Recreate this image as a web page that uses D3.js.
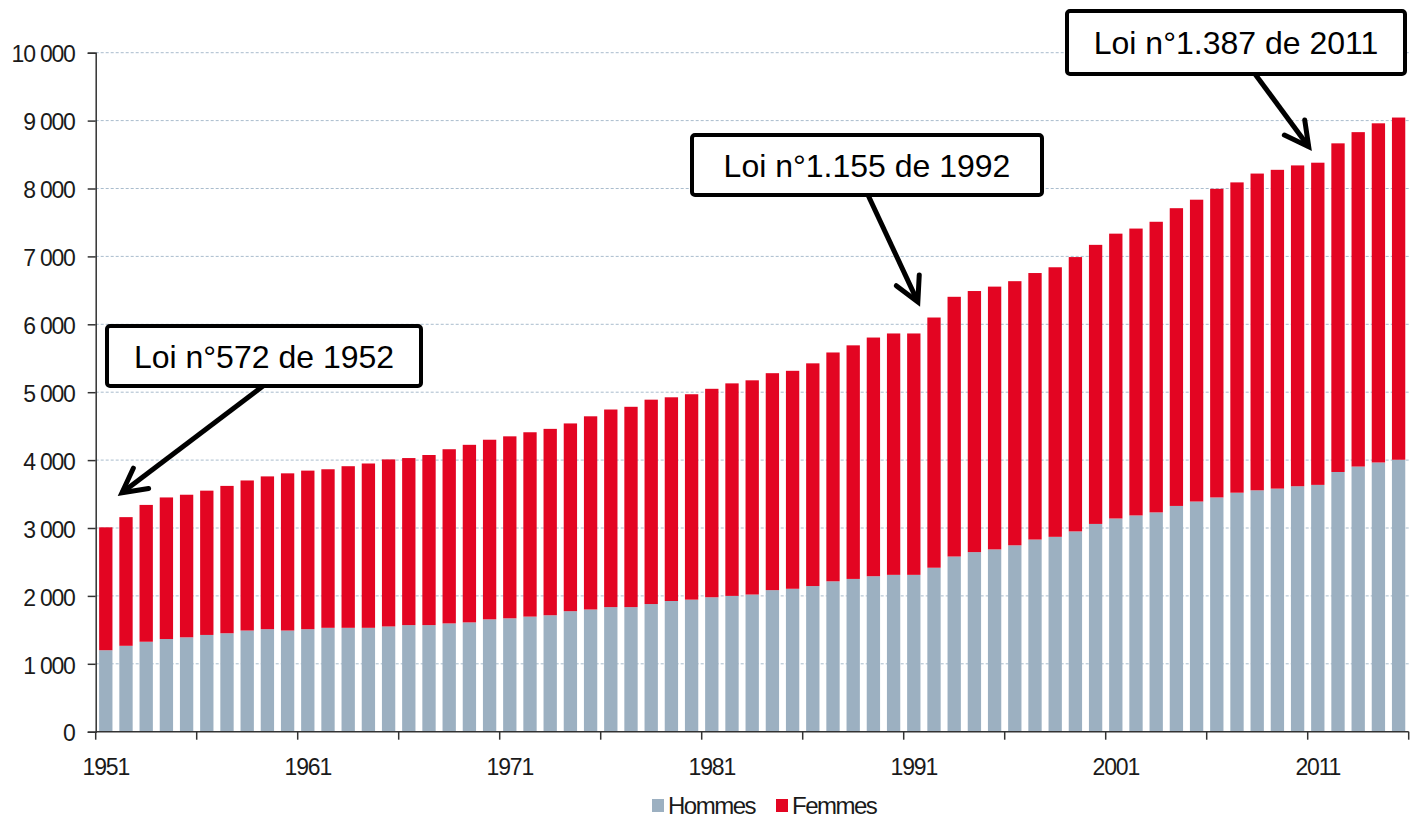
<!DOCTYPE html>
<html>
<head>
<meta charset="utf-8">
<script src="https://cdn.jsdelivr.net/npm/d3@7"></script>
<style>
  body { margin: 0; background: #fff; }
  svg { display: block; font-family: "Liberation Sans", Arial, sans-serif; }
</style>
</head>
<body>
<svg id="chart" width="1416" height="819"></svg>
<script>
// ---- data ----
const years = d3.range(1951, 2016);
const hommes = [
  1200, 1265, 1325, 1365, 1390, 1425, 1450, 1490, 1510, 1490,
  1510, 1530, 1530, 1530, 1550, 1570, 1570, 1595, 1610, 1655,
  1670, 1695, 1715, 1775, 1800, 1835, 1835, 1880, 1925, 1945,
  1980, 2000, 2020, 2085, 2105, 2145, 2215, 2250, 2290, 2310,
  2310, 2415, 2580, 2645, 2685, 2745, 2830, 2870, 2950, 3060,
  3140, 3185, 3230, 3325, 3390, 3450, 3520, 3555, 3580, 3615,
  3635, 3825, 3905, 3965, 4005
];
const femmes = [
  1810, 1895, 2015, 2085, 2100, 2125, 2170, 2210, 2250, 2315,
  2335, 2335, 2380, 2420, 2460, 2460, 2505, 2565, 2615, 2645,
  2680, 2715, 2745, 2765, 2845, 2910, 2950, 3010, 3000, 3025,
  3070, 3130, 3155, 3195, 3210, 3280, 3370, 3440, 3515, 3555,
  3555, 3685, 3825, 3845, 3870, 3890, 3925, 3970, 4040, 4110,
  4195, 4225, 4280, 4385, 4445, 4545, 4570, 4665, 4695, 4725,
  4745, 4840, 4925, 4995, 5040
];
const seriesNames = ["Hommes", "Femmes"];
const seriesColors = ["#9cb0c1", "#e30522"];
const yTicks = d3.range(0, 10001, 1000);
const labelYears = [1951, 1961, 1971, 1981, 1991, 2001, 2011];

// annotations: tip in data units (fractional year, value)
const notes = [
  { label: "Loi n°572 de 1952",   year: 1951.8,  value: 3520 },
  { label: "Loi n°1.155 de 1992", year: 1991.2,  value: 6330 },
  { label: "Loi n°1.387 de 2011", year: 2010.55, value: 8615 }
];
// box layout for each annotation (pixels)
const noteBoxes = [
  { x: 107,  y: 326, w: 314, h: 60, startX: 263 },
  { x: 692,  y: 135, w: 350, h: 60, startX: 868 },
  { x: 1067, y: 11,  w: 338, h: 63, startX: 1255 }
];

// ---- layout ----
const plotL = 95.7, plotR = 1408.7, plotT = 52.7, plotB = 731.7;
const svg = d3.select("#chart");

const x = d3.scaleBand().domain(years).range([plotL, plotR])
  .paddingInner(0.34).paddingOuter(0.17);
const y = d3.scaleLinear().domain([0, 10000]).range([plotB, plotT]);
const step = x.step();
const yearPos = yr => x(1951) + x.bandwidth() / 2 + (yr - 1951) * step;

const fmt = d3.formatLocale({ decimal: ",", thousands: " ", grouping: [3], currency: ["", ""] }).format(",d");

// gridlines
svg.append("g").selectAll("line").data(yTicks.filter(d => d > 0)).join("line")
  .attr("x1", plotL).attr("x2", plotR)
  .attr("y1", d => y(d)).attr("y2", d => y(d))
  .attr("stroke", "#a9bccd").attr("stroke-width", 1)
  .attr("stroke-dasharray", "3,2");

// stacked bars
const rows = years.map((yr, i) => ({ year: yr, Hommes: hommes[i], Femmes: femmes[i] }));
const stacked = d3.stack().keys(seriesNames)(rows);
svg.append("g").selectAll("g").data(stacked).join("g")
  .attr("fill", (d, i) => seriesColors[i])
  .selectAll("rect").data(d => d).join("rect")
  .attr("x", d => x(d.data.year))
  .attr("width", x.bandwidth())
  .attr("y", d => y(d[1]))
  .attr("height", d => y(d[0]) - y(d[1]));

// y axis
const yAxis = svg.append("g").attr("transform", `translate(${plotL},0)`)
  .call(d3.axisLeft(y).tickValues(yTicks).tickFormat(fmt).tickSize(8).tickPadding(13));
yAxis.select(".domain").attr("stroke", "#333").attr("stroke-width", 1.5);
yAxis.selectAll(".tick line").attr("stroke", "#333").attr("stroke-width", 1.5);
yAxis.selectAll("text")
  .attr("font-size", 23).attr("letter-spacing", "-1.2px").attr("fill", "#1a1a1a")
  .attr("dy", "0.4em");

// x axis: line, ticks at every 5th band boundary, labels every 10 years
const gx = svg.append("g");
gx.append("line").attr("x1", plotL).attr("x2", plotR)
  .attr("y1", plotB).attr("y2", plotB)
  .attr("stroke", "#333").attr("stroke-width", 1.5);
const tickPos = years.filter((d, i) => i % 5 === 0).map(d => x(d) - (step - x.bandwidth()) / 2).concat([plotR]);
gx.selectAll("line.tk").data(tickPos).join("line").attr("class", "tk")
  .attr("x1", d => d).attr("x2", d => d)
  .attr("y1", plotB).attr("y2", plotB + 8)
  .attr("stroke", "#333").attr("stroke-width", 1.5);
gx.selectAll("text").data(labelYears).join("text")
  .attr("x", d => x(d) + x.bandwidth() / 2)
  .attr("y", 775)
  .attr("text-anchor", "middle")
  .attr("font-size", 23).attr("letter-spacing", "-1.2px").attr("fill", "#1a1a1a")
  .text(d => d);

// legend
const legend = svg.append("g");
const legendX = [652, 776];
seriesNames.forEach((name, i) => {
  legend.append("rect").attr("x", legendX[i]).attr("y", 799)
    .attr("width", 12).attr("height", 13).attr("fill", seriesColors[i]);
  legend.append("text").attr("x", legendX[i] + 16).attr("y", 814)
    .attr("font-size", 24).attr("letter-spacing", "-1.5px").attr("fill", "#1a1a1a")
    .text(name);
});

// annotations
const ann = svg.append("g");
notes.forEach((n, i) => {
  const b = noteBoxes[i];
  const tx = yearPos(n.year), ty = y(n.value);
  const sx = b.startX, sy = b.y + b.h;
  const ang = Math.atan2(sy - ty, sx - tx);
  const len = 27, spread = 28 * Math.PI / 180;
  const a1 = [tx + len * Math.cos(ang - spread), ty + len * Math.sin(ang - spread)];
  const a2 = [tx + len * Math.cos(ang + spread), ty + len * Math.sin(ang + spread)];
  ann.append("line").attr("x1", sx).attr("y1", sy).attr("x2", tx).attr("y2", ty)
    .attr("stroke", "#000").attr("stroke-width", 5);
  ann.append("polyline").attr("points", [a1, [tx, ty], a2].map(p => p.join(",")).join(" "))
    .attr("fill", "none").attr("stroke", "#000").attr("stroke-width", 5)
    .attr("stroke-linecap", "round").attr("stroke-linejoin", "miter");
  ann.append("rect").attr("x", b.x).attr("y", b.y).attr("width", b.w).attr("height", b.h)
    .attr("rx", 3).attr("fill", "#fff").attr("stroke", "#000").attr("stroke-width", 4);
  ann.append("text").attr("x", b.x + b.w / 2).attr("y", b.y + b.h / 2 + 11.5)
    .attr("text-anchor", "middle").attr("font-size", 32).attr("fill", "#000")
    .text(n.label);
});
</script>
</body>
</html>
